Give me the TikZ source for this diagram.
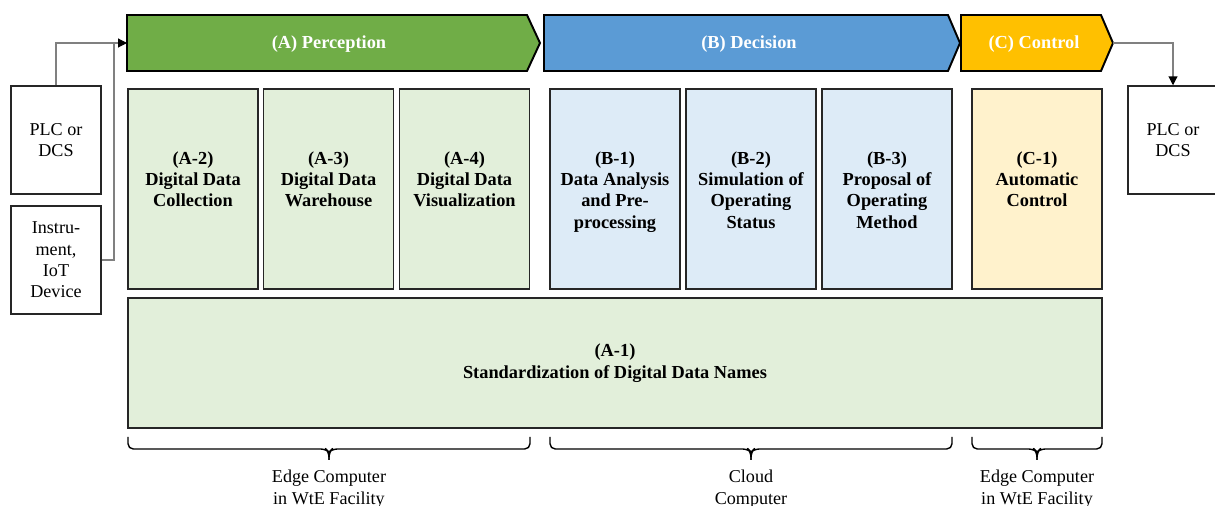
\documentclass[tikz,border=0pt]{standalone}
\usepackage{fontspec}
\setmainfont{Liberation Serif}
\usetikzlibrary{arrows.meta}
\definecolor{agreen}{HTML}{70AD47}
\definecolor{lgreen}{HTML}{E2EFDA}
\definecolor{ablue}{HTML}{5B9BD5}
\definecolor{lblue}{HTML}{DDEBF7}
\definecolor{agold}{HTML}{FFC000}
\definecolor{lgold}{HTML}{FFF2CC}
\definecolor{boxc}{HTML}{262626}
\definecolor{connc}{HTML}{808080}
\tikzset{
  bfnt/.style={font=\fontsize{10.45}{12.2}\selectfont\bfseries},
  box/.style={draw=boxc, line width=0.85pt, minimum width=2.6cm, minimum height=4cm, inner sep=0pt},
  lbl/.style={bfnt, align=center, inner sep=0pt, anchor=north},
  plainbox/.style={draw=boxc, line width=0.85pt, fill=white, minimum width=1.8cm, minimum height=2.16cm, align=center, inner sep=0pt},
  phase/.style={draw=black, line width=1.1pt, line join=miter},
  ptext/.style={text=white, bfnt, minimum height=1.12cm, inner sep=0pt},
  conn/.style={draw=connc, line width=0.6pt},
  tip/.style={-{Triangle[length=5pt,width=5pt,color=black]}},
  brc/.style={draw=black, line width=0.8pt, rounded corners=3pt},
  bl/.style={align=center, inner sep=0pt, anchor=north}
}
\begin{document}
\begin{tikzpicture}[x=0.02cm,y=-0.02cm,font=\fontsize{10.3}{12.2}\selectfont]
\useasboundingbox (0,0) rectangle (1215,506);

% phase arrows
\draw[phase, fill=agreen] (127,15) -- (527,15) -- (540,43) -- (527,71) -- (127,71) -- cycle;
\node[ptext, minimum width=8cm] (pA) at (329,44.5) {(A) Perception};
\draw[phase, fill=ablue] (544,15) -- (948,15) -- (960,43) -- (948,71) -- (544,71) -- cycle;
\node[ptext] (pB) at (749,44.5) {(B) Decision};
\draw[phase, fill=agold] (961,15) -- (1101,15) -- (1113,43) -- (1101,71) -- (961,71) -- cycle;
\node[ptext] (pC) at (1034,44.5) {(C) Control};
\coordinate (ain) at (127,43);
\coordinate (ctip) at (1113,43);

% boxes
\node[box, fill=lgreen] (a2) at (193,189) {};
\node[lbl] (a2t) at (193,151) {(A-2)\\Digital Data\\Collection};
\node[box, fill=lgreen] (a3) at (328.5,189) {};
\node[lbl] (a3t) at (328.5,151) {(A-3)\\Digital Data\\Warehouse};
\node[box, fill=lgreen] (a4) at (464.5,189) {};
\node[lbl] (a4t) at (464.5,151) {(A-4)\\Digital Data\\Visualization};
\node[box, fill=lblue] (b1) at (615,189) {};
\node[lbl] (b1t) at (615,151) {(B-1)\\Data Analysis\\and Pre-\\processing};
\node[box, fill=lblue] (b2) at (751,189) {};
\node[lbl] (b2t) at (751,151) {(B-2)\\Simulation of\\Operating\\Status};
\node[box, fill=lblue] (b3) at (887,189) {};
\node[lbl] (b3t) at (887,151) {(B-3)\\Proposal of\\Operating\\Method};
\node[box, fill=lgold] (c1) at (1037,189) {};
\node[lbl] (c1t) at (1037,151) {(C-1)\\Automatic\\Control};
\node[box, fill=lgreen, minimum width=19.48cm, minimum height=2.6cm, bfnt, align=center] (a1) at (615,363) {(A-1)\\Standardization of Digital Data Names};

% side boxes
\node[plainbox] (pl) at (56,140) {PLC or\\DCS};
\node[plainbox] (ins) at (56,260) {Instru-\\ment,\\IoT\\Device};
\node[plainbox] (pr) at (1173,140) {PLC or\\DCS};

% connectors
\coordinate (j) at (114,43);
\draw[conn, tip] (pl.north) |- (ain);
\draw[conn] (ins.east) -| (j);
\draw[conn, tip] (ctip) -| (pr.north);

% braces
\draw[brc] (128,437) -- (128,449) -- (326,449) -- (329,452) -- (329,460);
\draw[brc] (329,460) -- (329,452) -- (332,449) -- (530,449) -- (530,437);
\draw[brc] (550,437) -- (550,449) -- (748,449) -- (751,452) -- (751,460);
\draw[brc] (751,460) -- (751,452) -- (754,449) -- (952,449) -- (952,437);
\draw[brc] (972,437) -- (972,449) -- (1034,449) -- (1037,452) -- (1037,460);
\draw[brc] (1037,460) -- (1037,452) -- (1040,449) -- (1102,449) -- (1102,437);

\node[bl] (e1) at (329,470) {Edge Computer\\in WtE Facility};
\node[bl] (e2) at (751,470) {Cloud\\Computer};
\node[bl] (e3) at (1037,470) {Edge Computer\\in WtE Facility};
\end{tikzpicture}
\end{document}
